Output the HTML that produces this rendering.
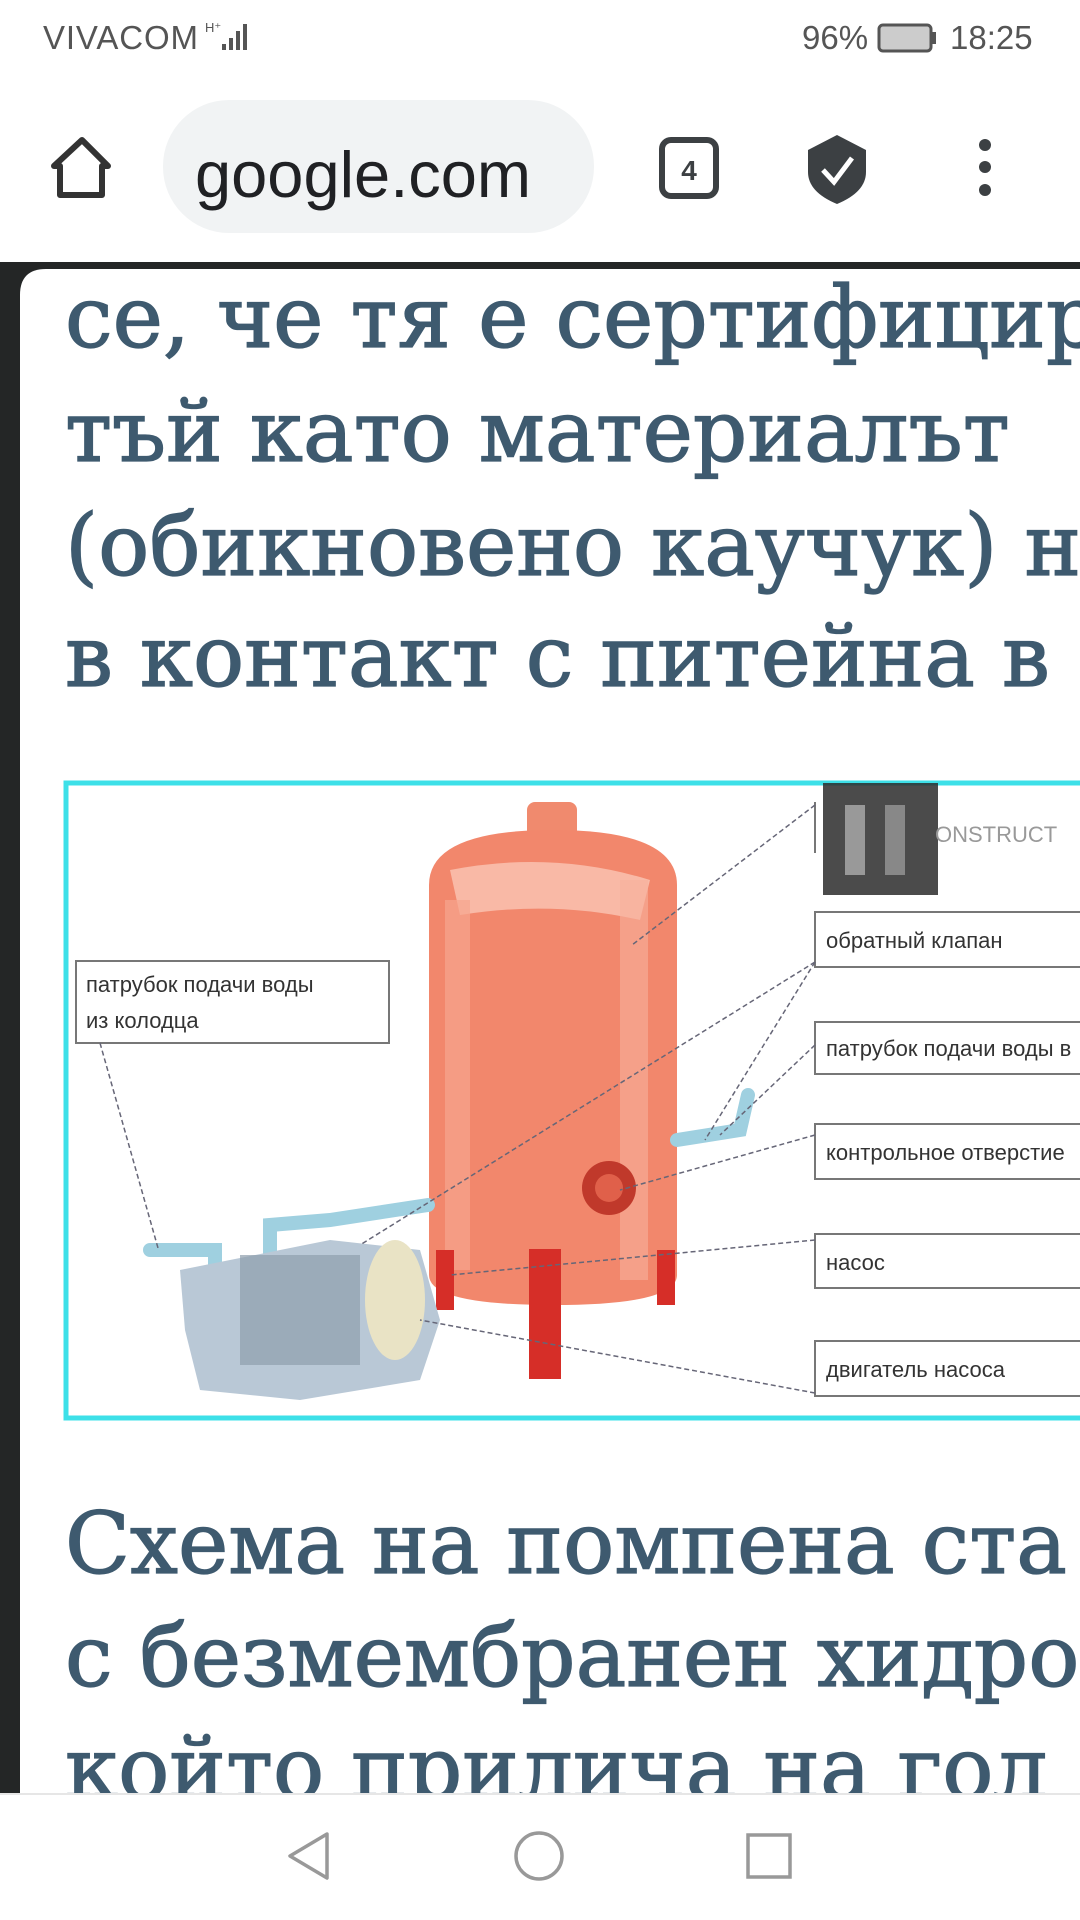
<!DOCTYPE html>
<html><head><meta charset="utf-8"><style>
html,body{margin:0;padding:0;width:1080px;height:1920px;overflow:hidden;background:#fff}
svg{display:block}
.t{font-family:"DejaVu Serif","Liberation Serif",serif;font-size:85px;fill:#3e5a6f;stroke:#3e5a6f;stroke-width:1.3}
.l{font-family:"Liberation Sans",sans-serif;font-size:22px;fill:#333}
</style></head><body>
<svg width="1080" height="1920" viewBox="0 0 1080 1920" xmlns="http://www.w3.org/2000/svg">
<rect x="0" y="0" width="1080" height="262" fill="#fff"/>
<text x="43" y="49" font-family="Liberation Sans,sans-serif" font-size="33" fill="#555" textLength="155">VIVACOM</text>
<g fill="#555"><rect x="222" y="44" width="4" height="6"/><rect x="229" y="38" width="4" height="12"/><rect x="236" y="31" width="4" height="19"/><rect x="243" y="24" width="4" height="26"/></g>
<text x="205" y="32" font-family="Liberation Sans,sans-serif" font-size="13" fill="#555">H⁺</text>
<text x="802" y="49" font-family="Liberation Sans,sans-serif" font-size="33" fill="#555">96%</text>
<rect x="879" y="25" width="52" height="26" rx="4" fill="#ccc" stroke="#555" stroke-width="3"/>
<rect x="932" y="32" width="4" height="12" fill="#555"/>
<text x="950" y="49" font-family="Liberation Sans,sans-serif" font-size="33" fill="#555">18:25</text>
<path d="M82 140 L108 166 L102 166 L102 195 L60 195 L60 166 L54 166 Z" fill="none" stroke="#333" stroke-width="6" stroke-linejoin="round"/>
<rect x="163" y="100" width="431" height="133" rx="66" fill="#f1f3f4"/>
<text x="195" y="197" font-family="Liberation Sans,sans-serif" font-size="65" fill="#202124">google.com</text>
<rect x="662" y="140" width="54" height="56" rx="9" fill="none" stroke="#3c4043" stroke-width="6"/>
<text x="689" y="180" text-anchor="middle" font-family="Liberation Sans,sans-serif" font-size="28" font-weight="bold" fill="#3c4043">4</text>
<path d="M837 135 L866 150 L866 172 Q866 192 837 204 Q808 192 808 172 L808 150 Z" fill="#3c4043"/>
<path d="M823 170 L834 182 L852 158" fill="none" stroke="#fff" stroke-width="5"/>
<circle cx="985" cy="145" r="6" fill="#3c4043"/><circle cx="985" cy="167" r="6" fill="#3c4043"/><circle cx="985" cy="190" r="6" fill="#3c4043"/>
<rect x="0" y="262" width="1080" height="1535" fill="#242626"/>
<path d="M20 1797 L20 295 Q20 269 46 269 L1080 269 L1080 1797 Z" fill="#fff"/>
<text class="t" x="65" y="347">се, че тя е сертифицир</text>
<text class="t" x="65" y="461">тъй като материалът</text>
<text class="t" x="65" y="575">(обикновено каучук) н</text>
<text class="t" x="65" y="686">в контакт с питейна в</text>
<rect x="66" y="783" width="1020" height="635" fill="#fff" stroke="#3de0e8" stroke-width="5"/>
<rect x="823" y="783" width="115" height="112" fill="#2b2b2b" opacity="0.85"/>
<rect x="845" y="805" width="20" height="70" fill="#999"/><rect x="885" y="805" width="20" height="70" fill="#888"/>
<text x="935" y="842" font-family="Liberation Sans,sans-serif" font-size="22" fill="#999">ONSTRUCT</text>
<g fill="#fff" stroke="#777" stroke-width="2">
<rect x="76" y="961" width="313" height="82"/>
<path d="M1090 912 L815 912 L815 967 L1090 967"/>
<path d="M1090 1022 L815 1022 L815 1074 L1090 1074"/>
<path d="M1090 1124 L815 1124 L815 1179 L1090 1179"/>
<path d="M1090 1234 L815 1234 L815 1288 L1090 1288"/>
<path d="M1090 1341 L815 1341 L815 1396 L1090 1396"/>
<path d="M815 802 L815 853" fill="none"/>
</g>
<g class="l">
<text class="l" x="86" y="992">патрубок подачи воды</text>
<text class="l" x="86" y="1028">из колодца</text>
<text class="l" x="826" y="948">обратный клапан</text>
<text class="l" x="826" y="1056">патрубок подачи воды в</text>
<text class="l" x="826" y="1160">контрольное отверстие</text>
<text class="l" x="826" y="1270">насос</text>
<text class="l" x="826" y="1377">двигатель насоса</text>
</g>
<rect x="527" y="802" width="50" height="45" rx="8" fill="#f08a6e"/>
<path d="M429 885 Q429 830 553 830 Q677 830 677 885 L677 1275 Q677 1305 553 1305 Q429 1305 429 1275 Z" fill="#f2876c"/>
<path d="M450 870 Q553 850 650 880 L640 920 Q553 900 460 915 Z" fill="#f9b9a6"/>
<rect x="445" y="900" width="25" height="370" fill="#f6a58f" opacity="0.7"/>
<rect x="620" y="880" width="28" height="400" fill="#f7b19c" opacity="0.6"/>
<rect x="436" y="1250" width="18" height="60" fill="#d62e28"/>
<rect x="657" y="1250" width="18" height="55" fill="#d62e28"/>
<rect x="529" y="1249" width="32" height="130" fill="#d62e28"/>
<circle cx="609" cy="1188" r="27" fill="#c0392b"/><circle cx="609" cy="1188" r="14" fill="#e0604a"/>
<g stroke="#9fd0e0" stroke-width="14" fill="none" stroke-linecap="round">
<path d="M150 1250 L215 1250 L215 1265"/>
<path d="M270 1265 L270 1225 L330 1220 L428 1205"/>
<path d="M677 1140 L740 1130 L748 1095"/>
</g>
<path d="M180 1270 L330 1240 L420 1250 L440 1320 L420 1380 L300 1400 L200 1390 L185 1330 Z" fill="#b9c8d6"/>
<rect x="240" y="1255" width="120" height="110" fill="#8e9eac" opacity="0.7"/>
<ellipse cx="395" cy="1300" rx="30" ry="60" fill="#e9e3c5"/>
<g stroke="#667" stroke-width="1.5" stroke-dasharray="5 3" fill="none">
<line x1="815" y1="805" x2="632" y2="945"/>
<line x1="815" y1="962" x2="360" y2="1245"/>
<line x1="815" y1="962" x2="705" y2="1140"/>
<line x1="815" y1="1045" x2="720" y2="1135"/>
<line x1="815" y1="1135" x2="620" y2="1190"/>
<line x1="815" y1="1240" x2="450" y2="1275"/>
<line x1="815" y1="1393" x2="420" y2="1320"/>
<line x1="100" y1="1043" x2="158" y2="1248"/>
</g>
<text class="t" x="65" y="1573">Схема на помпена ста</text>
<text class="t" x="65" y="1686">с безмембранен хидро</text>
<text class="t" x="65" y="1798">който прилича на гол</text>
<rect x="0" y="1794" width="1080" height="126" fill="#fff"/>
<line x1="0" y1="1794" x2="1080" y2="1794" stroke="#e6e6e6" stroke-width="2"/>
<path d="M327 1834 L290 1856 L327 1878 Z" fill="none" stroke="#999" stroke-width="3.5" stroke-linejoin="round"/>
<circle cx="539" cy="1856" r="23" fill="none" stroke="#999" stroke-width="3.5"/>
<rect x="748" y="1835" width="42" height="42" fill="none" stroke="#999" stroke-width="3.5"/>
</svg>
</body></html>
